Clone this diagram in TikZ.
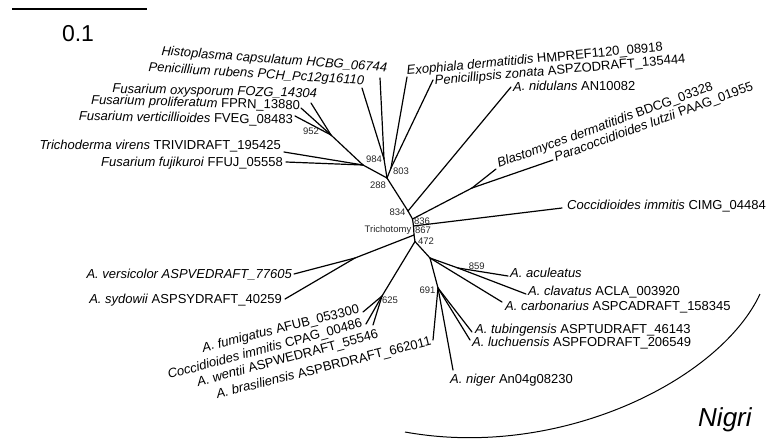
\documentclass[tikz,border=0pt]{standalone}
\usepackage{fontspec}
\setmainfont{Liberation Sans}
\begin{document}
\begin{tikzpicture}[x=1pt,y=-1pt,
  branch/.style={line width=1.2pt, line cap=round, line join=round},
  leaf/.style={font=\fontsize{13}{15}\selectfont, inner sep=0pt},
  boot/.style={font=\fontsize{9.5}{11}\selectfont, inner sep=0pt, text=black!85},
  clade/.style={line width=1pt}]
\useasboundingbox (0,0) rectangle (776,440);

% scale bar
\coordinate (sb1) at (12,9);
\coordinate (sb2) at (147,9);
\draw[line width=2.6pt] (sb1) -- (sb2);
\node[font=\fontsize{23}{26}\selectfont, anchor=base, inner sep=0pt] (sbl) at (78,41.5) {0.1};

% internal nodes
\coordinate (n952) at (331,135);
\coordinate (nTF) at (363,165);
\coordinate (n984) at (384,159);
\coordinate (n803) at (391,168);
\coordinate (n288) at (387,178);
\coordinate (n834) at (408,211);
\coordinate (n836) at (412.5,219);
\coordinate (nBP) at (472,188);
\coordinate (n867) at (413.5,226);
\coordinate (ntri) at (414,235);
\coordinate (nV) at (355,258);
\coordinate (n472) at (415,241.5);
\coordinate (n625) at (382,296);
\coordinate (nN) at (430,258);
\coordinate (n859) at (458,268);
\coordinate (n691) at (438,288);

% tips
\coordinate (tFoxy) at (311,103);
\coordinate (tFpro) at (301,108);
\coordinate (tFver) at (295,116);
\coordinate (tTri) at (284,152);
\coordinate (tFfu) at (286,162);
\coordinate (tHis) at (380,78);
\coordinate (tPru) at (362,88);
\coordinate (tExo) at (407,77);
\coordinate (tPzo) at (433,80);
\coordinate (tNid) at (511,87);
\coordinate (tBla) at (496,169);
\coordinate (tPar) at (553,160);
\coordinate (tCim) at (562,208);
\coordinate (tVer) at (294,274);
\coordinate (tSyd) at (285,299);
\coordinate (tFum) at (363,312);
\coordinate (tCpa) at (366,324);
\coordinate (tWen) at (373,325);
\coordinate (tBra) at (433,340);
\coordinate (tNig) at (453,370);
\coordinate (tTub) at (472,332);
\coordinate (tLuc) at (470,340);
\coordinate (tAcu) at (508,276);
\coordinate (tCla) at (526,294);
\coordinate (tCar) at (502,302);

% branches
\draw[branch] (tFoxy) -- (n952);
\draw[branch] (tFpro) -- (n952);
\draw[branch] (tFver) -- (n952);
\draw[branch] (n952) -- (nTF);
\draw[branch] (tTri) -- (nTF);
\draw[branch] (tFfu) -- (nTF);
\draw[branch] (nTF) -- (n288);
\draw[branch] (tHis) -- (n984);
\draw[branch] (tPru) -- (n984);
\draw[branch] (n984) -- (n288);
\draw[branch] (tExo) -- (n803);
\draw[branch] (tPzo) -- (n803);
\draw[branch] (n803) -- (n288);
\draw[branch] (n288) -- (n834);
\draw[branch] (tNid) -- (n834);
\draw[branch] (n834) -- (n836);
\draw[branch] (n836) -- (nBP);
\draw[branch] (nBP) -- (tBla);
\draw[branch] (nBP) -- (tPar);
\draw[branch] (n836) -- (n867);
\draw[branch] (n867) -- (tCim);
\draw[branch] (n867) -- (ntri);
\draw[branch] (ntri) -- (nV);
\draw[branch] (nV) -- (tVer);
\draw[branch] (nV) -- (tSyd);
\draw[branch] (ntri) -- (n472);
\draw[branch] (n472) -- (n625);
\draw[branch] (n625) -- (tFum);
\draw[branch] (n625) -- (tCpa);
\draw[branch] (n625) -- (tWen);
\draw[branch] (n472) -- (nN);
\draw[branch] (nN) -- (n859);
\draw[branch] (n859) -- (tAcu);
\draw[branch] (n859) -- (tCla);
\draw[branch] (nN) -- (tCar);
\draw[branch] (nN) -- (n691);
\draw[branch] (n691) -- (tBra);
\draw[branch] (n691) -- (tNig);
\draw[branch] (n691) -- (tTub);
\draw[branch] (n691) -- (tLuc);

% support values
\node[boot] (b952) at (311,131.7) {952};
\node[boot] (b984) at (374,159.3) {984};
\node[boot] (b803) at (401,171.5) {803};
\node[boot] (b288) at (378,185) {288};
\node[boot] (b834) at (397.5,212.7) {834};
\node[boot] (b836) at (422,221.7) {836};
\node[boot] (b867) at (423,230.5) {867};
\node[boot] (btri) at (388,230.5) {Trichotomy};
\node[boot] (b472) at (426,241) {472};
\node[boot] (b625) at (390,300) {625};
\node[boot] (b691) at (427.5,290) {691};
\node[boot] (b859) at (476.7,266.7) {859};

% leaf labels
\node[leaf, anchor=base east, rotate=-4.3] (lHis) at (387,72) {\textit{Histoplasma capsulatum HCBG\_06744}};
\node[leaf, anchor=base east, rotate=-3.5] (lPru) at (364,84.5) {\textit{Penicillium rubens PCH\_Pc12g16110}};
\node[leaf, anchor=base east, rotate=-1.3] (lFoxy) at (317,97.5) {\textit{Fusarium oxysporum FOZG\_14304}};
\node[leaf, anchor=base east, rotate=-1.5] (lFpro) at (300,109.5) {\textit{Fusarium proliferatum} FPRN\_13880};
\node[leaf, anchor=base east, rotate=-1] (lFver) at (293,124) {\textit{Fusarium verticillioides} FVEG\_08483};
\node[leaf, anchor=base east] (lTri) at (281,149.5) {\textit{Trichoderma virens} TRIVIDRAFT\_195425};
\node[leaf, anchor=base east] (lFfu) at (283,166.5) {\textit{Fusarium fujikuroi} FFUJ\_05558};
\node[leaf, anchor=base west, rotate=5.3] (lExo) at (407,75) {\textit{Exophiala dermatitidis} HMPREF1120\_08918};
\node[leaf, anchor=base west, rotate=5] (lPzo) at (435,85) {\textit{Penicillipsis zonata} ASPZODRAFT\_135444};
\node[leaf, anchor=base west, rotate=0.5] (lNid) at (513,91) {\textit{A. nidulans} AN10082};
\node[leaf, anchor=base west, rotate=20] (lBla) at (499,168) {\textit{Blastomyces dermatitidis} BDCG\_03328};
\node[leaf, anchor=base west, rotate=20] (lPar) at (556,162) {\textit{Paracoccidioides lutzii} PAAG\_01955};
\node[leaf, anchor=base west] (lCim) at (567,209) {\textit{Coccidioides immitis} CIMG\_04484};
\node[leaf, anchor=base east] (lVer) at (292,278) {\textit{A. versicolor ASPVEDRAFT\_77605}};
\node[leaf, anchor=base east] (lSyd) at (282,303) {\textit{A. sydowii} ASPSYDRAFT\_40259};
\node[leaf, anchor=base east, rotate=14] (lFum) at (360,313) {\textit{A. fumigatus} AFUB\_053300};
\node[leaf, anchor=base east, rotate=15] (lCpa) at (363,327) {\textit{Coccidioides immitis} CPAG\_00486};
\node[leaf, anchor=base east, rotate=15] (lWen) at (379,338) {\textit{A. wentii} ASPWEDRAFT\_55546};
\node[leaf, anchor=base east, rotate=14] (lBra) at (432,345) {\textit{A. brasiliensis} ASPBRDRAFT\_662011};
\node[leaf, anchor=base west] (lAcu) at (510,277) {\textit{A. aculeatus}};
\node[leaf, anchor=base west] (lCla) at (528,295) {\textit{A. clavatus} ACLA\_003920};
\node[leaf, anchor=base west] (lCar) at (505,310) {\textit{A. carbonarius} ASPCADRAFT\_158345};
\node[leaf, anchor=base west] (lTub) at (475,333) {\textit{A. tubingensis} ASPTUDRAFT\_46143};
\node[leaf, anchor=base west] (lLuc) at (472,346.5) {\textit{A. luchuensis} ASPFODRAFT\_206549};
\node[leaf, anchor=base west] (lNig) at (450,383) {\textit{A. niger} An04g08230};

% Nigri clade arc
\coordinate (arcA) at (405,432);
\coordinate (arcB) at (760,294);
\draw[clade] (arcA) .. controls (560,460) and (720,380) .. (arcB);
\node[font=\fontsize{26}{30}\selectfont\itshape, anchor=base west, inner sep=0pt] (nigri) at (698,426) {Nigri};
\end{tikzpicture}
\end{document}
